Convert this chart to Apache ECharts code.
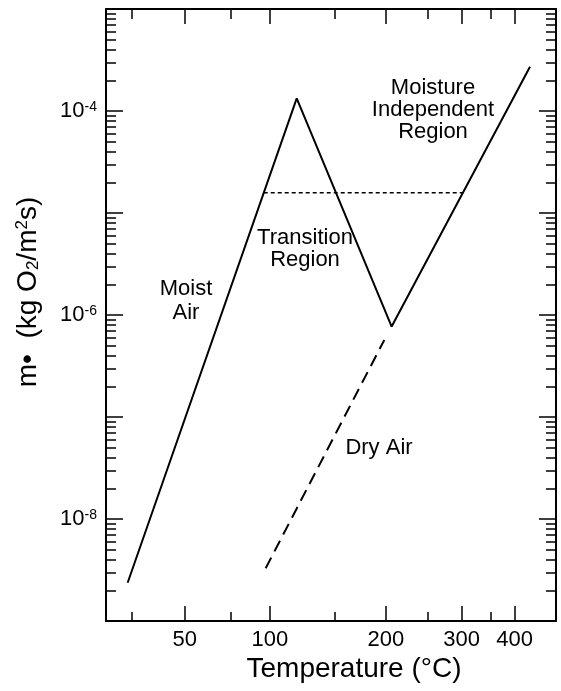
<!DOCTYPE html>
<html><head><meta charset="utf-8">
<script src="https://cdn.jsdelivr.net/npm/echarts@6/dist/echarts.min.js"></script>
<style>html,body{margin:0;padding:0;background:#fff}#c{width:561px;height:691px}</style>
</head><body><div id="c"></div>
<script>
// ---- data (temperature in °C, rate in kg O2 / m^2 s) ----
const moistTemps = [23.3, 119.2, 206.3, 435.5];
const moistRates = [2.37e-9, 1.33e-4, 7.7e-7, 2.72e-4];
const dryTemps = [97.2, 198.2];
const dryRates = [3.29e-9, 5.69e-7];
const thresholdTemps = [95.9, 302.3];
const thresholdRates = [1.58e-5, 1.58e-5];
// ---- axes ----
const xRangeTemps = [14.3, 505.5];
const xMajorTickTemps = [50, 100, 200, 300, 400];
const xMinorTickTemps = [25, 75, 150, 250, 350];
const yRangeDecades = [-9, -3];
const yMajorDecades = [-9, -8, -7, -6, -5, -4, -3];
const yLabelDecades = [-8, -6, -4];
const yMinorMultipliers = [2, 3, 4, 5, 6, 7, 8, 9];

const FONT = '"Liberation Sans", Arial, Helvetica, sans-serif';
const toX = t => -1000 / (t + 273.15);      // reciprocal absolute temperature axis
const fromX = x => 1000 / (-x) - 273.15;
const toY = v => Math.log10(v);

const yMinor = [];
for (let d = yRangeDecades[0]; d < yRangeDecades[1]; d++) {
  yMinorMultipliers.forEach(k => yMinor.push(d + Math.log10(k)));
}

function xAx(pos, ticks, len, line, labels) {
  return {
    type: 'value', position: pos, gridIndex: 0,
    min: toX(xRangeTemps[0]), max: toX(xRangeTemps[1]),
    axisLine: { show: line, onZero: false, lineStyle: { color: '#000', width: 2 } },
    axisTick: { show: true, inside: true, length: len, customValues: ticks.map(toX),
      lineStyle: { color: '#000', width: 1.5 } },
    axisLabel: labels ? {
      show: true, customValues: labels.map(toX), margin: 8,
      formatter: v => String(Math.round(fromX(v))),
      color: '#000', fontSize: 22, fontFamily: FONT
    } : { show: false },
    splitLine: { show: false }
  };
}
function yAx(pos, ticks, len, line, labels) {
  return {
    type: 'value', position: pos, gridIndex: 0,
    min: yRangeDecades[0], max: yRangeDecades[1],
    axisLine: { show: line, onZero: false, lineStyle: { color: '#000', width: 2 } },
    axisTick: { show: true, inside: true, length: len, customValues: ticks,
      lineStyle: { color: '#000', width: 1.5 } },
    axisLabel: labels ? {
      show: true, customValues: labels, margin: 9,
      formatter: v => '{b|10}{s|' + Math.round(v) + '}',
      rich: {
        b: { fontSize: 22, fontFamily: FONT, color: '#000' },
        s: { fontSize: 14, fontFamily: FONT, color: '#000', verticalAlign: 'top' }
      }
    } : { show: false },
    splitLine: { show: false }
  };
}

const pairs = (ts, vs) => ts.map((t, i) => [toX(t), toY(vs[i])]);

const chart = echarts.init(document.getElementById('c'), null, { renderer: 'canvas' });
chart.setOption({
  animation: false,
  backgroundColor: '#fff',
  grid: { left: 106, right: 5, top: 9, bottom: 70 },
  xAxis: [
    xAx('bottom', xMajorTickTemps, 15, true, xMajorTickTemps),
    xAx('bottom', xMinorTickTemps, 9, false, null),
    xAx('top', xMajorTickTemps, 15, true, null),
    xAx('top', xMinorTickTemps, 10, false, null)
  ],
  yAxis: [
    yAx('left', yMajorDecades, 17, true, yLabelDecades),
    yAx('left', yMinor, 10, false, null),
    yAx('right', yMajorDecades, 17, true, null),
    yAx('right', yMinor, 10, false, null)
  ],
  series: [
    { type: 'line', xAxisIndex: 0, yAxisIndex: 0, data: pairs(moistTemps, moistRates),
      symbol: 'none', lineStyle: { color: '#000', width: 2 } },
    { type: 'line', xAxisIndex: 0, yAxisIndex: 0, data: pairs(dryTemps, dryRates),
      symbol: 'none', lineStyle: { color: '#000', width: 2, type: [12, 7] } },
    { type: 'line', xAxisIndex: 0, yAxisIndex: 0, data: pairs(thresholdTemps, thresholdRates),
      symbol: 'none', lineStyle: { color: '#000', width: 1.5, type: [4, 3] } }
  ],
  graphic: [
    { type: 'text', x: 433, y: 110, style: { text: 'Moisture\nIndependent\nRegion', align: 'center',
      verticalAlign: 'middle', font: '22px ' + FONT, lineHeight: 22, fill: '#000' } },
    { type: 'text', x: 305, y: 249, style: { text: 'Transition\nRegion', align: 'center',
      verticalAlign: 'middle', font: '22px ' + FONT, lineHeight: 22, fill: '#000' } },
    { type: 'text', x: 186, y: 301, style: { text: 'Moist\nAir', align: 'center',
      verticalAlign: 'middle', font: '22px ' + FONT, lineHeight: 24, fill: '#000' } },
    { type: 'text', x: 379, y: 448, style: { text: 'Dry Air', align: 'center',
      verticalAlign: 'middle', font: '22px ' + FONT, fill: '#000' } },
    { type: 'text', x: 354, y: 669, style: { text: 'Temperature (°C)', align: 'center',
      verticalAlign: 'middle', font: '28px ' + FONT, fill: '#000' } },
    { type: 'text', x: 28, y: 292, rotation: Math.PI / 2, style: {
      text: '{a|m•  (kg O}{b|2}{a|/m}{c|2}{a|s)}', align: 'center', verticalAlign: 'middle',
      rich: {
        a: { fontSize: 28, fontFamily: FONT, fill: '#000' },
        b: { fontSize: 17, fontFamily: FONT, fill: '#000', verticalAlign: 'bottom' },
        c: { fontSize: 17, fontFamily: FONT, fill: '#000', verticalAlign: 'top' }
      } } }
  ]
});
</script>
</body></html>
